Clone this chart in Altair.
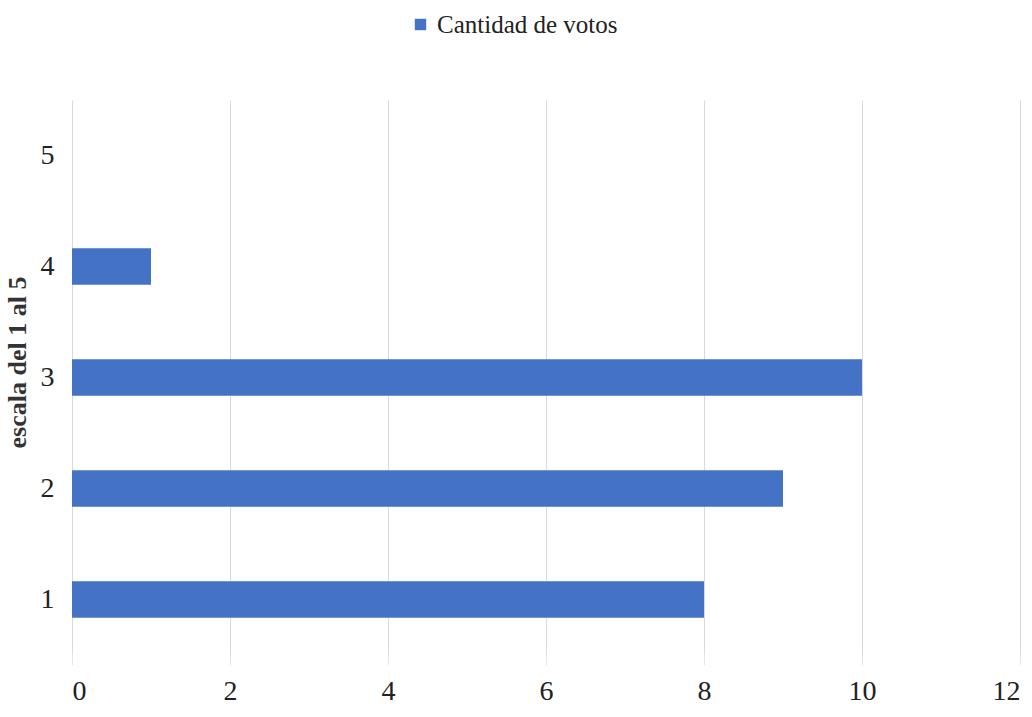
import altair as alt
import pandas as pd

# Votes per rating on a 1-to-5 scale
escala = ["1", "2", "3", "4", "5"]
votos = [8, 9, 10, 1, 0]
serie = "Cantidad de votos"

df = pd.DataFrame({"escala": escala, "votos": votos, "serie": [serie] * len(escala)})

FONT = "Liberation Serif"

chart = (
    alt.Chart(df)
    .mark_bar(color="#4472C4")
    .encode(
        x=alt.X(
            "votos:Q",
            scale=alt.Scale(domain=[0, 12]),
            axis=alt.Axis(
                title=None,
                values=[0, 2, 4, 6, 8, 10, 12],
                grid=True,
                gridColor="#d9d9d9",
                domain=False,
                ticks=True,
                tickSize=10,
                tickColor="#e6e6e6",
                labelFont=FONT,
                labelFontSize=28,
                labelColor="#222222",
                labelPadding=12,
            ),
        ),
        y=alt.Y(
            "escala:N",
            sort=["5", "4", "3", "2", "1"],
            scale=alt.Scale(paddingInner=0.67, paddingOuter=0.335),
            axis=alt.Axis(
                title="escala del 1 al 5",
                titleFont=FONT,
                titleFontSize=26,
                titleFontWeight="bold",
                titleColor="#333333",
                titlePadding=10,
                titleY=262,
                grid=False,
                domain=False,
                ticks=False,
                labelFont=FONT,
                labelFontSize=28,
                labelColor="#222222",
                labelPadding=18,
            ),
        ),
        fill=alt.Fill(
            "serie:N",
            scale=alt.Scale(domain=[serie], range=["#4472C4"]),
            legend=alt.Legend(
                title=None,
                orient="none",
                legendX=336,
                legendY=-88,
                symbolType="square",
                symbolSize=130,
                labelFont=FONT,
                labelFontSize=25,
                labelColor="#222222",
                labelOffset=4,
                labelLimit=400,
            ),
        ),
    )
    .properties(
        width=948,
        height=555,
        background="white",
        autosize=alt.AutoSizeParams(type="none"),
        padding={"left": 72, "top": 100, "right": 12, "bottom": 62},
    )
    .configure_view(strokeWidth=0)
)

chart.save("out.html", embed_options={"renderer": "svg", "actions": False})
